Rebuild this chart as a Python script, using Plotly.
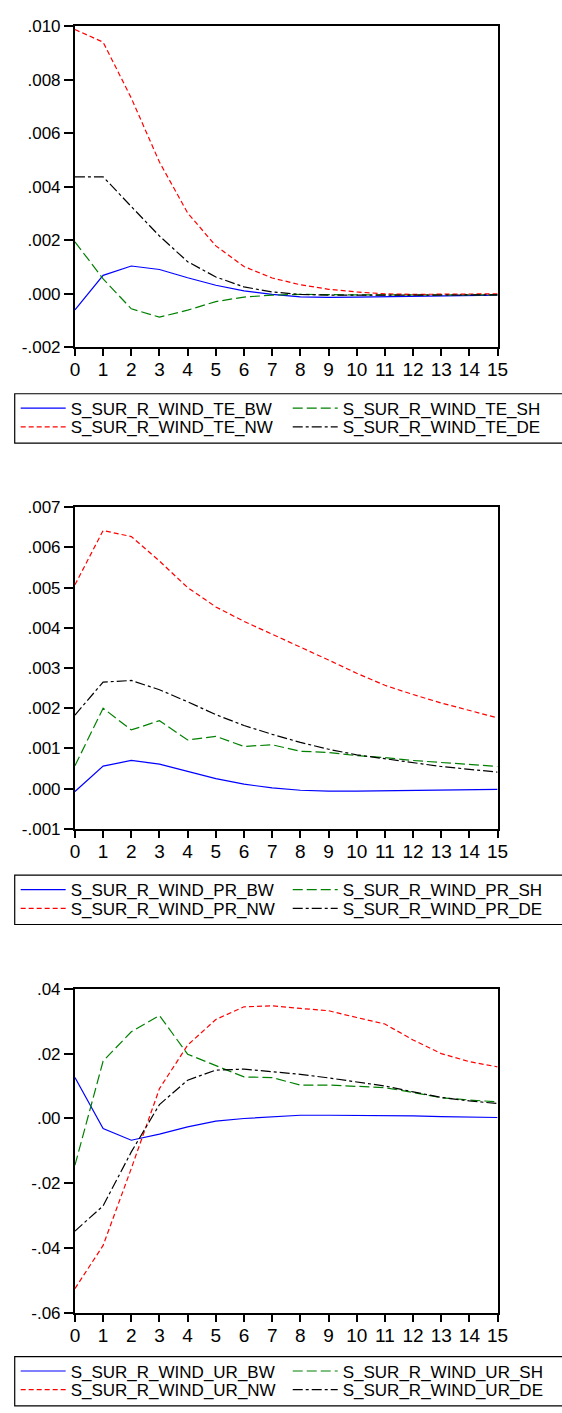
import plotly.graph_objects as go

# Impulse-response horizon (periods)
horizon = list(range(16))

# Responses of S_SUR_R_WIND_TE_*
te_bw = [-0.00060, 0.00069, 0.00104, 0.00091, 0.00060, 0.00032, 0.00011, -0.00002,
         -0.00011, -0.00013, -0.00012, -0.00011, -0.00009, -0.00008, -0.00007, -0.00005]
te_sh = [0.00194, 0.00056, -0.00056, -0.00087, -0.00061, -0.00029, -0.00012, -0.00005,
         -0.00002, -0.00004, -0.00004, -0.00004, -0.00004, -0.00004, -0.00004, -0.00004]
te_nw = [0.00987, 0.00940, 0.00731, 0.00492, 0.00302, 0.00179, 0.00102, 0.00059,
         0.00034, 0.00017, 0.00007, 0.00000, -0.00002, -0.00002, 0.00000, 0.00000]
te_de = [0.00437, 0.00437, 0.00326, 0.00216, 0.00120, 0.00063, 0.00026, 0.00007,
         -0.00002, -0.00005, -0.00005, -0.00005, -0.00005, -0.00005, -0.00004, -0.00004]

# Responses of S_SUR_R_WIND_PR_*
pr_bw = [-0.00007, 0.00056, 0.00070, 0.00061, 0.00043, 0.00025, 0.00011, 0.00002,
         -0.00004, -0.00006, -0.00006, -0.00005, -0.00005, -0.00003, -0.00002, -0.00002]
pr_sh = [0.00057, 0.00200, 0.00146, 0.00169, 0.00121, 0.00130, 0.00105, 0.00109,
         0.00093, 0.00090, 0.00082, 0.00077, 0.00070, 0.00065, 0.00059, 0.00055]
pr_nw = [0.00507, 0.00642, 0.00627, 0.00566, 0.00500, 0.00452, 0.00416, 0.00385,
         0.00352, 0.00320, 0.00287, 0.00257, 0.00234, 0.00213, 0.00194, 0.00176]
pr_de = [0.00183, 0.00265, 0.00269, 0.00246, 0.00216, 0.00184, 0.00157, 0.00135,
         0.00115, 0.00098, 0.00084, 0.00074, 0.00064, 0.00055, 0.00048, 0.00041]

# Responses of S_SUR_R_WIND_UR_*
ur_bw = [0.0126, -0.0031, -0.0067, -0.0048, -0.0026, -0.0008, 0.0000, 0.0006,
         0.0010, 0.0010, 0.0010, 0.0010, 0.0008, 0.0006, 0.0004, 0.0003]
ur_sh = [-0.0144, 0.0177, 0.0267, 0.0317, 0.0198, 0.0164, 0.0128, 0.0126,
         0.0103, 0.0103, 0.0100, 0.0095, 0.0080, 0.0064, 0.0057, 0.0051]
ur_nw = [-0.0524, -0.0391, -0.0154, 0.0092, 0.0226, 0.0305, 0.0344, 0.0347,
         0.0339, 0.0332, 0.0311, 0.0291, 0.0242, 0.0200, 0.0175, 0.0159]
ur_de = [-0.0347, -0.0269, -0.0103, 0.0043, 0.0118, 0.0149, 0.0152, 0.0144,
         0.0136, 0.0125, 0.0113, 0.0100, 0.0082, 0.0065, 0.0054, 0.0046]

# Axis ticks and labels
te_ticks = [-0.002, 0.000, 0.002, 0.004, 0.006, 0.008, 0.010]
te_labels = ["-.002", ".000", ".002", ".004", ".006", ".008", ".010"]
pr_ticks = [-0.001, 0.000, 0.001, 0.002, 0.003, 0.004, 0.005, 0.006, 0.007]
pr_labels = ["-.001", ".000", ".001", ".002", ".003", ".004", ".005", ".006", ".007"]
ur_ticks = [-0.06, -0.04, -0.02, 0.00, 0.02, 0.04]
ur_labels = ["-.06", "-.04", "-.02", ".00", ".02", ".04"]
x_labels = [str(h) for h in horizon]

W, H = 562, 1413
FONT = "Liberation Sans, Arial, sans-serif"

STYLE = {
    "BW": dict(color="#0000FF", dash="solid"),
    "SH": dict(color="#008000", dash="10px,4px"),
    "NW": dict(color="#FF0000", dash="5px,3px"),
    "DE": dict(color="#000000", dash="10px,3px,3px,3px"),
}

# (variable, series, y ticks, y labels, plot top px, plot bottom px, legend top px, legend bottom px)
panels = [
    ("TE", {"BW": te_bw, "SH": te_sh, "NW": te_nw, "DE": te_de}, te_ticks, te_labels, 17.3, 343.0, 390, 440),
    ("PR", {"BW": pr_bw, "SH": pr_sh, "NW": pr_nw, "DE": pr_de}, pr_ticks, pr_labels, 505.0, 831.0, 878, 928),
    ("UR", {"BW": ur_bw, "SH": ur_sh, "NW": ur_nw, "DE": ur_de}, ur_ticks, ur_labels, 993.0, 1322.0, 1366, 1416),
]

# legend slot of each series: (column x px, row index)
slots = {"BW": (11, 0), "SH": (291, 0), "NW": (11, 1), "DE": (291, 1)}


def py(px):
    return 1 - px / H


fig = go.Figure()
layout = dict(
    width=W, height=H,
    margin=dict(l=0, r=0, t=0, b=0),
    paper_bgcolor="white", plot_bgcolor="white",
    font=dict(family=FONT, color="black"),
    showlegend=True,
    shapes=[],
)

legend_count = 0
for i, (var, series, ticks, labels, top, bottom, box_top, box_bot) in enumerate(panels):
    ax = "" if i == 0 else str(i + 1)
    layout["xaxis" + ax] = dict(
        domain=[72 / W, 507 / W], range=[0, 15], anchor="y" + ax,
        tickmode="array", tickvals=horizon, ticktext=x_labels,
        ticks="outside", ticklen=7, tickwidth=1.5, tickcolor="black",
        ticklabelstandoff=-3,
        showline=True, linecolor="black", linewidth=2, mirror=True,
        showgrid=False, zeroline=False,
        tickfont=dict(family=FONT, size=19, color="black"),
    )
    layout["yaxis" + ax] = dict(
        domain=[py(bottom), py(top)], range=[ticks[0], ticks[-1]], anchor="x" + ax,
        tickmode="array", tickvals=ticks, ticktext=labels,
        ticks="outside", ticklen=9, tickwidth=1.5, tickcolor="black",
        showline=True, linecolor="black", linewidth=2, mirror=True,
        showgrid=False, zeroline=False,
        tickfont=dict(family=FONT, size=17, color="black"),
    )
    # legend frame
    layout["shapes"].append(dict(
        type="rect", xref="paper", yref="paper",
        x0=10 / W, x1=575 / W, y0=py(box_bot), y1=py(box_top),
        line=dict(color="black", width=1.2), fillcolor="rgba(0,0,0,0)", layer="below",
    ))
    row_centers = [box_top + 15, box_top + 34]
    for k in ["BW", "SH", "NW", "DE"]:
        legend_count += 1
        lg = "legend" if legend_count == 1 else "legend%d" % legend_count
        col_x, row = slots[k]
        layout[lg] = dict(
            x=col_x / W, xanchor="left", y=py(row_centers[row]), yanchor="middle",
            orientation="h", bgcolor="rgba(0,0,0,0)", borderwidth=0,
            itemwidth=45,
            font=dict(family=FONT, size=17, color="black"),
            itemclick=False, itemdoubleclick=False,
        )
        fig.add_trace(go.Scatter(
            x=horizon, y=series[k], mode="lines",
            name="S_SUR_R_WIND_%s_%s" % (var, k),
            line=dict(color=STYLE[k]["color"], dash=STYLE[k]["dash"], width=1.2),
            xaxis="x" + ax, yaxis="y" + ax, legend=lg,
        ))

fig.update_layout(**layout)
fig.write_html("out.html")
